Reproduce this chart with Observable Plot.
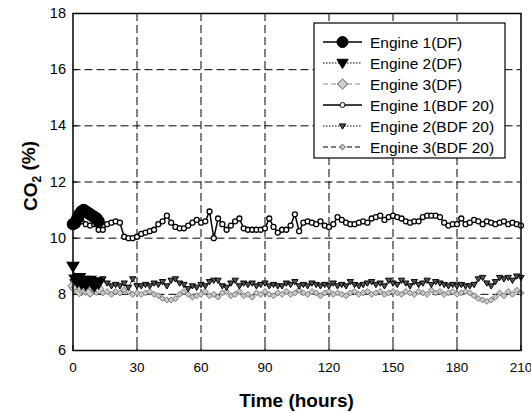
<!DOCTYPE html>
<html>
<head>
<meta charset="utf-8">
<script src="https://cdn.jsdelivr.net/npm/d3@7"></script>
<script src="https://cdn.jsdelivr.net/npm/@observablehq/plot@0.6"></script>
<style>
  html, body { margin: 0; padding: 0; background: white; }
</style>
</head>
<body>
<div id="chart"></div>
<script>
// ---- data ----
const xTicks = [0, 30, 60, 90, 120, 150, 180, 210];
const yTicks = [6, 8, 10, 12, 14, 16, 18];
const xGrid = [30, 60, 90, 120, 150, 180];
const yGrid = [8, 10, 12, 14, 16];

const seriesNames = ["Engine 1(DF)", "Engine 2(DF)", "Engine 3(DF)", "Engine 1(BDF 20)", "Engine 2(BDF 20)", "Engine 3(BDF 20)"];

const hoursDF = [0, 1, 2, 3, 4, 5, 6, 7, 8, 9, 10, 11, 12];
const engine1DF = [10.5, 10.55, 10.7, 10.85, 10.95, 11.0, 10.95, 10.9, 10.85, 10.8, 10.75, 10.7, 10.6];
const engine2DF = [9.0, 8.55, 8.45, 8.6, 8.4, 8.5, 8.35, 8.45, 8.5, 8.4, 8.3, 8.45, 8.4];
const engine3DF = [8.3, 8.2, 8.25, 8.1, 8.2, 8.3, 8.15, 8.2, 8.1, 8.25, 8.2, 8.15, 8.2];

const hoursBDF = [0, 2, 4, 6, 8, 10, 12, 14, 16, 18, 20, 22, 24, 26, 28, 30, 32, 34, 36, 38,
  40, 42, 44, 46, 48, 50, 52, 54, 56, 58, 60, 62, 64, 66, 68, 70, 72, 74, 76, 78,
  80, 82, 84, 86, 88, 90, 92, 94, 96, 98, 100, 102, 104, 106, 108, 110, 112, 114, 116, 118,
  120, 122, 124, 126, 128, 130, 132, 134, 136, 138, 140, 142, 144, 146, 148, 150, 152, 154, 156, 158,
  160, 162, 164, 166, 168, 170, 172, 174, 176, 178, 180, 182, 184, 186, 188, 190, 192, 194, 196, 198,
  200, 202, 204, 206, 208, 210];
const engine1BDF = [10.5, 10.55, 10.6, 10.5, 10.45, 10.5, 10.3, 10.3, 10.5, 10.55, 10.6, 10.55, 10.05, 10.0, 10.0, 10.05, 10.15, 10.2, 10.25, 10.3,
  10.5, 10.6, 10.8, 10.55, 10.4, 10.35, 10.35, 10.45, 10.55, 10.65, 10.55, 10.6, 10.95, 10.0, 10.7, 10.5, 10.3, 10.45, 10.6, 10.7,
  10.35, 10.3, 10.3, 10.3, 10.3, 10.35, 10.7, 10.4, 10.2, 10.3, 10.3, 10.45, 10.85, 10.25, 10.55, 10.6, 10.55, 10.5, 10.6, 10.45,
  10.4, 10.5, 10.75, 10.65, 10.55, 10.5, 10.5, 10.55, 10.6, 10.55, 10.7, 10.75, 10.8, 10.65, 10.75, 10.8, 10.75, 10.7, 10.6, 10.55,
  10.6, 10.6, 10.75, 10.8, 10.8, 10.8, 10.75, 10.55, 10.45, 10.5, 10.5, 10.7, 10.5, 10.55, 10.65, 10.6, 10.5, 10.6, 10.55, 10.5,
  10.55, 10.6, 10.5, 10.55, 10.5, 10.45];
const engine2BDF = [8.45, 8.4, 8.5, 8.35, 8.45, 8.4, 8.3, 8.55, 8.4, 8.3, 8.35, 8.3, 8.4, 8.25, 8.55, 8.3, 8.3, 8.35, 8.3, 8.4,
  8.35, 8.45, 8.3, 8.5, 8.55, 8.4, 8.35, 8.2, 8.3, 8.25, 8.35, 8.3, 8.45, 8.5, 8.5, 8.3, 8.25, 8.4, 8.5, 8.3,
  8.4, 8.35, 8.4, 8.3, 8.35, 8.4, 8.3, 8.35, 8.3, 8.3, 8.4, 8.35, 8.45, 8.3, 8.35, 8.3, 8.4, 8.35, 8.3, 8.35,
  8.3, 8.4, 8.3, 8.35, 8.3, 8.45, 8.35, 8.3, 8.35, 8.4, 8.45, 8.35, 8.4, 8.3, 8.5, 8.4, 8.35, 8.5, 8.4, 8.3,
  8.45, 8.35, 8.4, 8.5, 8.35, 8.45, 8.4, 8.35, 8.3, 8.35, 8.3, 8.35, 8.3, 8.3, 8.35, 8.55, 8.6, 8.4, 8.3, 8.45,
  8.6, 8.55, 8.6, 8.5, 8.65, 8.6];
const engine3BDF = [8.2, 8.15, 8.05, 8.2, 8.0, 8.1, 8.15, 8.05, 8.1, 8.0, 8.1, 8.05, 8.15, 8.1, 8.0, 8.05, 8.0, 8.05, 8.1, 8.0,
  7.95, 7.85, 7.8, 7.8, 7.85, 8.0, 8.1, 8.0, 7.9, 7.95, 8.0, 8.1, 7.95, 8.0, 7.9, 8.05, 8.1, 7.95, 8.0, 8.1,
  7.95, 8.0, 7.9, 8.05, 8.0, 8.1, 8.0, 7.95, 8.05, 8.0, 8.1, 8.0, 8.05, 8.15, 8.05, 8.0, 8.1, 8.05, 7.95, 8.05,
  8.1, 8.0, 8.05, 8.0, 7.95, 8.05, 8.1, 8.0, 8.05, 8.1, 8.0, 8.05, 8.1, 8.0, 8.05, 8.1, 8.05, 8.0, 8.1, 8.05,
  8.0, 8.1, 8.05, 8.0, 8.15, 8.05, 8.1, 8.0, 8.05, 8.1, 8.0, 8.05, 8.1, 8.05, 7.95, 7.85, 7.8, 7.75, 7.8, 7.9,
  8.05, 7.95, 8.1, 8.0, 8.15, 8.05];

// ---- build tables ----
const toRows = (hours, vals) => hours.map((h, i) => ({t: h, v: vals[i]}));
const e1DF = toRows(hoursDF, engine1DF);
const e2DF = toRows(hoursDF, engine2DF);
const e3DF = toRows(hoursDF, engine3DF);
const e1B = toRows(hoursBDF, engine1BDF);
const e2B = toRows(hoursBDF, engine2BDF);
const e3B = toRows(hoursBDF, engine3BDF);

// down-pointing triangle symbol
const triDown = {
  draw(ctx, size) {
    const s = Math.sqrt(size / 1.3);
    ctx.moveTo(-s * 0.75, -s * 0.5);
    ctx.lineTo(s * 0.75, -s * 0.5);
    ctx.lineTo(0, s * 0.75);
    ctx.closePath();
  }
};

const FONT = "'Liberation Sans', Arial, Helvetica, sans-serif";
const W = 531, H = 413;
const mL = 72.5, mR = 10.5, mT = 13, mB = 63;

const chart = Plot.plot({
  width: W, height: H,
  marginLeft: mL, marginRight: mR, marginTop: mT, marginBottom: mB,
  style: {fontFamily: FONT, fontSize: "14px", background: "white", color: "black", overflow: "visible"},
  x: {domain: [0, 210], ticks: xTicks},
  y: {domain: [6, 18], ticks: yTicks},
  marks: [
    Plot.gridX(xGrid, {stroke: "black", strokeOpacity: 1, strokeWidth: 1, strokeDasharray: "8,4"}),
    Plot.gridY(yGrid, {stroke: "black", strokeOpacity: 1, strokeWidth: 1, strokeDasharray: "8,4"}),
    Plot.tickX(xTicks, {x: d => d, insetTop: H - mT - mB - 5, stroke: "black"}),
    Plot.tickY(yTicks, {y: d => d, insetRight: W - mL - mR - 5, stroke: "black"}),
    Plot.axisX({ticks: xTicks, tickSize: 0, tickPadding: 12, label: null, fontSize: 13.5}),
    Plot.axisY({ticks: yTicks, tickSize: 0, tickPadding: 7, label: null, fontSize: 14.5}),
    // Engine 3 (BDF 20)
    Plot.line(e3B, {x: "t", y: "v", stroke: "#888", strokeWidth: 1, strokeDasharray: "5,3"}),
    Plot.dot(e3B, {x: "t", y: "v", symbol: "diamond2", r: 2.7, fill: "#c8c8c8", stroke: "#7a7a7a", strokeWidth: 1}),
    // Engine 2 (BDF 20)
    Plot.line(e2B, {x: "t", y: "v", stroke: "black", strokeWidth: 1, strokeDasharray: "1.5,1.5"}),
    Plot.dot(e2B, {x: "t", y: "v", symbol: triDown, r: 2.7, fill: "#555", stroke: "black", strokeWidth: 1}),
    // Engine 1 (BDF 20)
    Plot.line(e1B, {x: "t", y: "v", stroke: "black", strokeWidth: 1.5}),
    Plot.dot(e1B, {x: "t", y: "v", r: 2.5, fill: "white", stroke: "black", strokeWidth: 1.3}),
    // Engine 3 (DF)
    Plot.line(e3DF, {x: "t", y: "v", stroke: "#888", strokeWidth: 1, strokeDasharray: "5,3"}),
    Plot.dot(e3DF, {x: "t", y: "v", symbol: "diamond2", r: 4.8, fill: "#d0d0d0", stroke: "#7a7a7a", strokeWidth: 1}),
    // Engine 2 (DF)
    Plot.line(e2DF, {x: "t", y: "v", stroke: "black", strokeWidth: 1, strokeDasharray: "1.5,1.5"}),
    Plot.dot(e2DF, {x: "t", y: "v", symbol: triDown, r: 4.8, fill: "black", stroke: "black"}),
    // Engine 1 (DF)
    Plot.line(e1DF, {x: "t", y: "v", stroke: "black", strokeWidth: 1.5}),
    Plot.dot(e1DF, {x: "t", y: "v", r: 5.5, fill: "black", stroke: "black"}),
    Plot.frame({stroke: "black", strokeWidth: 1.5})
  ]
});

document.getElementById("chart").appendChild(chart);

// ---- axis titles ----
const svg = d3.select(chart);
svg.append("text")
  .attr("x", (mL + W - mR) / 2).attr("y", 407)
  .attr("text-anchor", "middle")
  .style("font-family", FONT).style("font-size", "19px").style("font-weight", "bold")
  .text("Time (hours)");

const yt = svg.append("text")
  .attr("transform", "translate(37,176) rotate(-90)")
  .attr("text-anchor", "middle")
  .style("font-family", FONT).style("font-size", "19px").style("font-weight", "bold");
yt.append("tspan").text("CO");
yt.append("tspan").attr("dy", "0.3em").style("font-size", "12px").text("2");
yt.append("tspan").attr("dy", "-0.3em").text(" (%)");

// ---- legend ----
const lg = svg.append("g").style("font-family", FONT).style("font-size", "15.5px").attr("text-anchor", "start");
lg.append("rect").attr("x", 314).attr("y", 23).attr("width", 191).attr("height", 135)
  .attr("fill", "white").attr("stroke", "black").attr("stroke-width", 1.2);

const legendStyles = [
  {dash: null, stroke: "black", sw: 1.5, sym: d3.symbolCircle, r: 5.5, fill: "black", mstroke: "black"},
  {dash: "1.5,1.5", stroke: "black", sw: 1, sym: triDown, r: 4.8, fill: "black", mstroke: "black"},
  {dash: "5,3", stroke: "#888", sw: 1, sym: d3.symbolSquare, r: 4.8, fill: "#d0d0d0", mstroke: "#7a7a7a", rot: 45},
  {dash: null, stroke: "black", sw: 1.5, sym: d3.symbolCircle, r: 2.5, fill: "white", mstroke: "black"},
  {dash: "1.5,1.5", stroke: "black", sw: 1, sym: triDown, r: 2.7, fill: "#555", mstroke: "black"},
  {dash: "5,3", stroke: "black", sw: 1.2, sym: d3.symbolSquare, r: 2.7, fill: "#c8c8c8", mstroke: "#7a7a7a", rot: 45}
];
seriesNames.forEach((name, i) => {
  const y = 42 + 21 * i;
  const s = legendStyles[i];
  lg.append("line").attr("x1", 323).attr("x2", 362).attr("y1", y).attr("y2", y)
    .attr("stroke", s.stroke).attr("stroke-width", s.sw).attr("stroke-dasharray", s.dash);
  const size = s.sym === d3.symbolSquare ? (s.r * 1.5) ** 2 : Math.PI * s.r * s.r;
  lg.append("path").attr("d", d3.symbol(s.sym, size)())
    .attr("transform", `translate(342.5,${y})` + (s.rot ? ` rotate(${s.rot})` : ""))
    .attr("fill", s.fill).attr("stroke", s.mstroke).attr("stroke-width", 1);
  lg.append("text").attr("x", 370).attr("y", y).attr("dy", "0.36em").attr("text-anchor", "start").text(name);
});
</script>
</body>
</html>
